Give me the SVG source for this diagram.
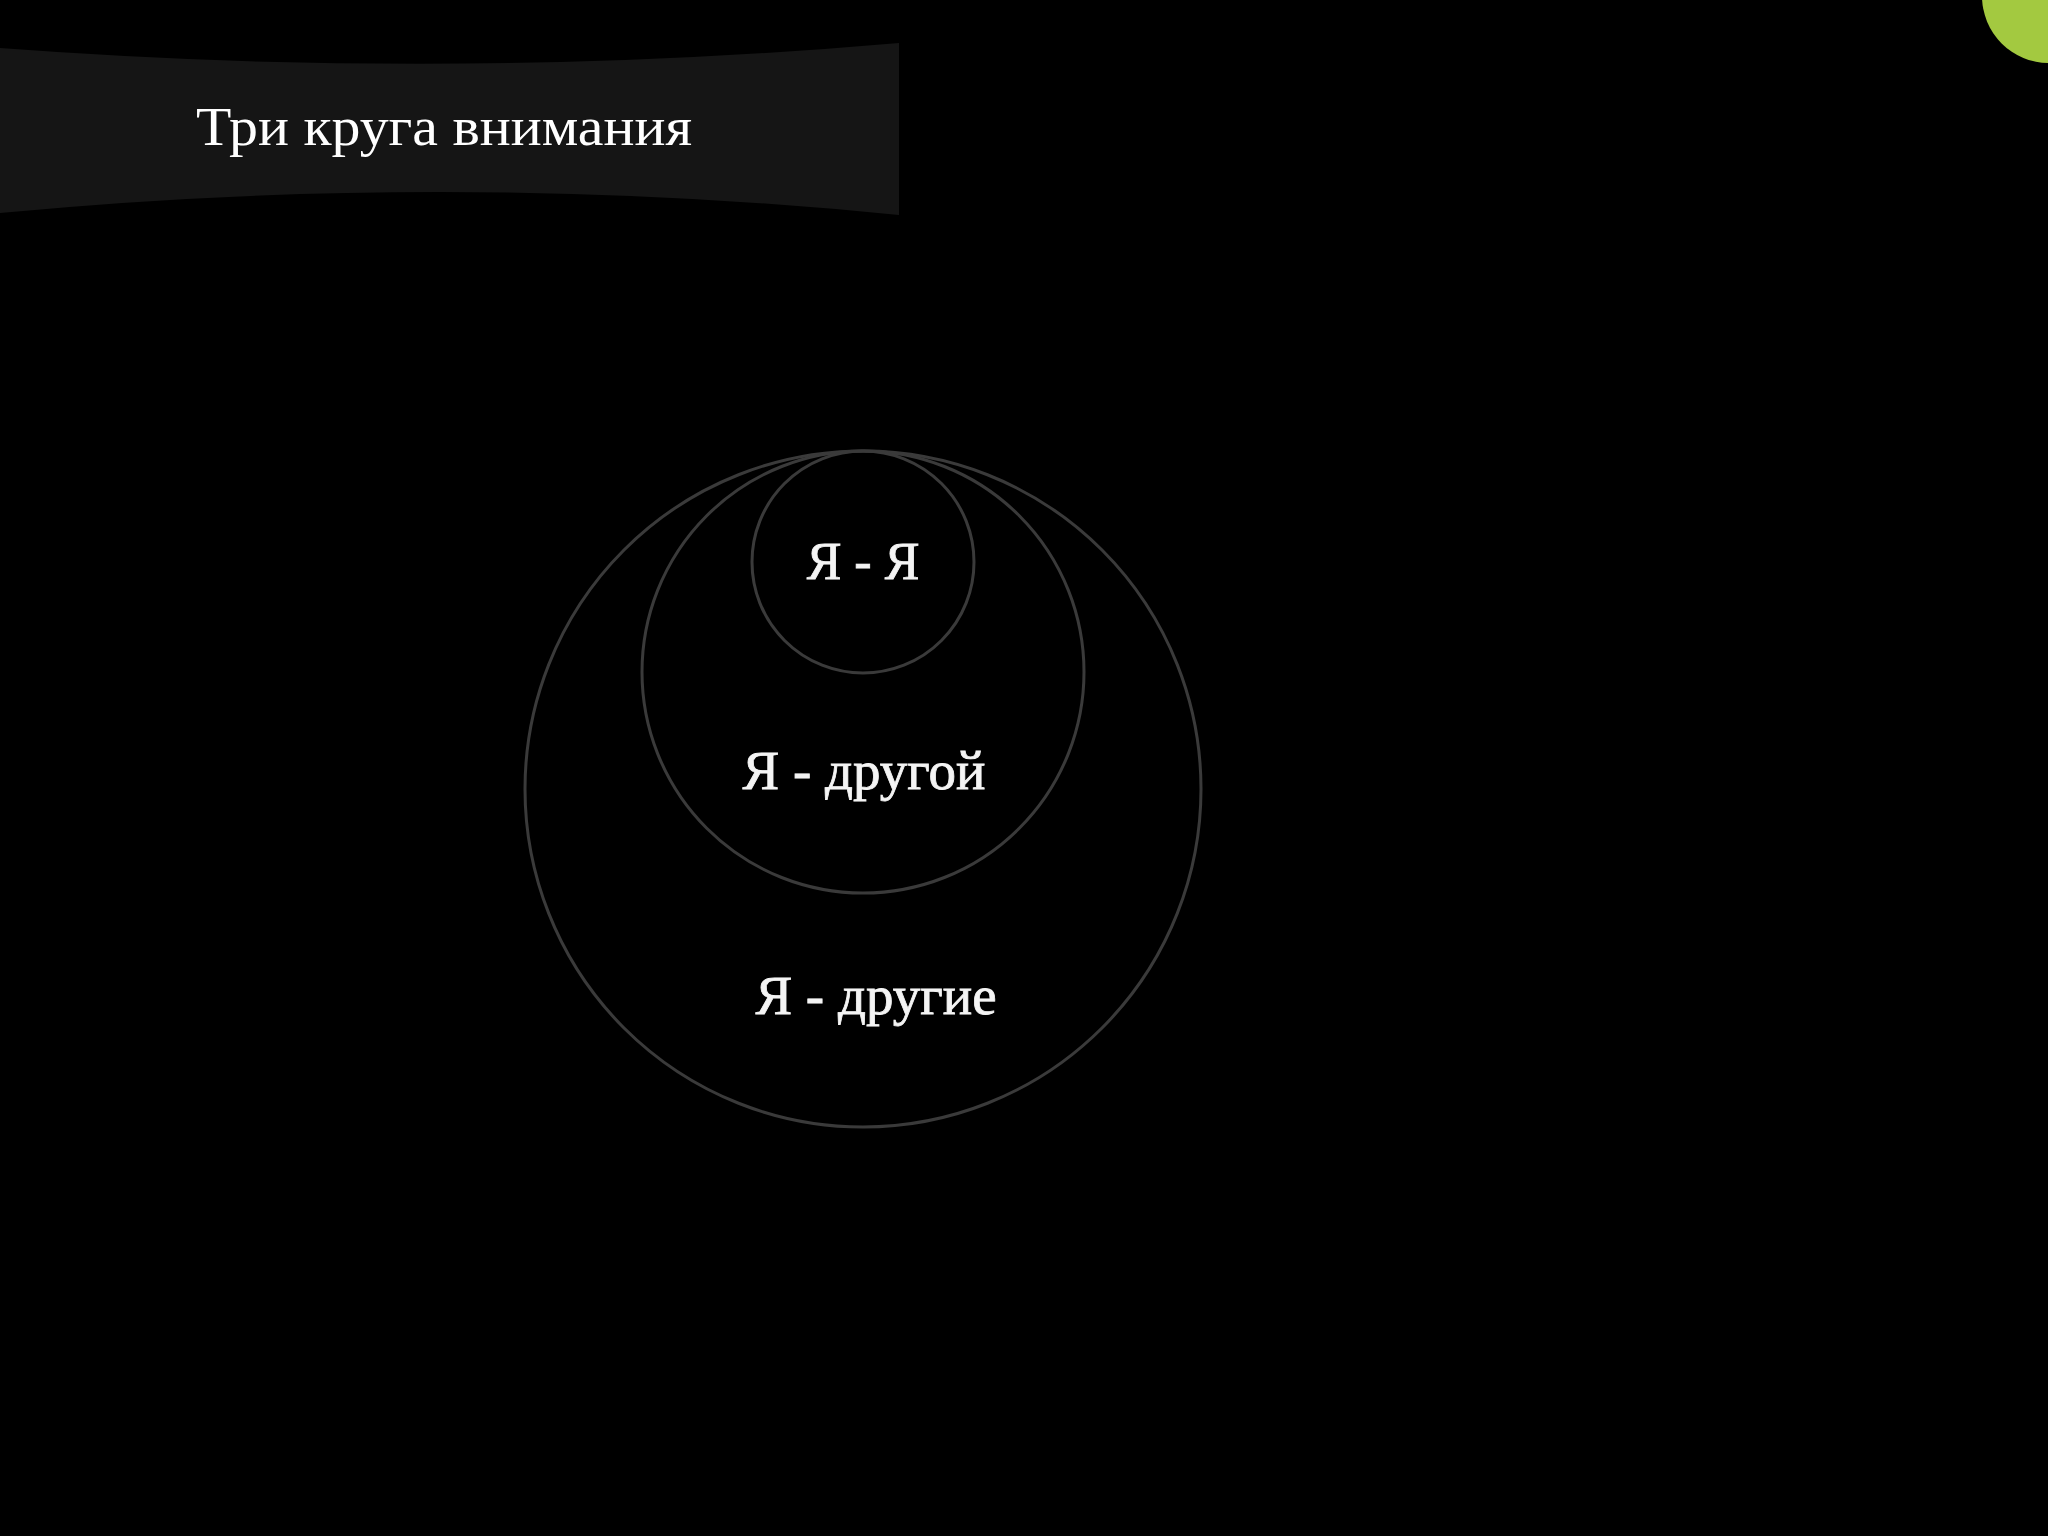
<svg xmlns="http://www.w3.org/2000/svg" width="2048" height="1536" viewBox="0 0 2048 1536">
<style>
.ring{fill:none;stroke:#3a3a3a;stroke-width:3}
.lbl{font-family:"Liberation Serif","DejaVu Serif",serif;font-size:55px;fill:#f4f4f4;stroke:#f4f4f4;stroke-width:0.8;text-anchor:middle}
.title{font-family:"Liberation Serif","DejaVu Serif",serif;font-size:54px;fill:#ffffff}
</style>
<rect x="0" y="0" width="2048" height="1536" fill="#000000"/>
<g id="banner">
<path d="M0,48 Q450,82 899,43 L899,215 Q450,170 0,213 Z" fill="#151515"/>
<text class="title" x="196" y="145" textLength="496" lengthAdjust="spacingAndGlyphs">Три круга внимания</text>
</g>
<circle id="corner" cx="2049" cy="-4" r="67" fill="#a3c940"/>
<g id="circle-others">
<circle class="ring" cx="863" cy="789" r="338"/>
<text class="lbl" x="876" y="1014">Я - другие</text>
</g>
<g id="circle-other">
<circle class="ring" cx="863" cy="672" r="221"/>
<text class="lbl" x="864" y="789">Я - другой</text>
</g>
<g id="circle-self">
<circle class="ring" cx="863" cy="562" r="111"/>
<text class="lbl" x="863" y="579" style="font-size:52px">Я - Я</text>
</g>
<g id="connectors"/>
</svg>
